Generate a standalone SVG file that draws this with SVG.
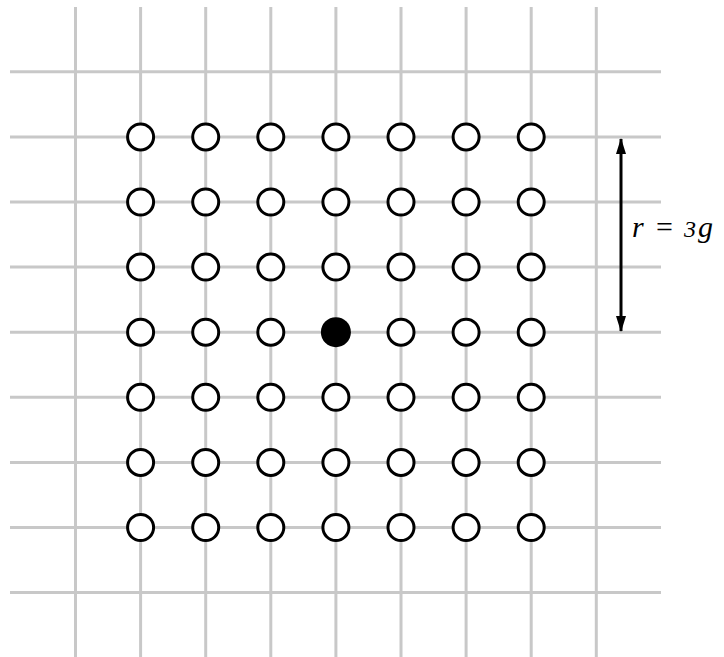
<svg xmlns="http://www.w3.org/2000/svg" width="724" height="657" viewBox="0 0 724 657">
<style>
.grid line{stroke:#c8c8c8;stroke-width:3}
.pt{fill:#fff;stroke:#000;stroke-width:3}
.ctr{fill:#000}
.dim{stroke:#000;stroke-width:3;fill:none}
.lbl{font-family:"Liberation Serif","Times New Roman",serif;font-style:italic;font-size:30px;fill:#000}
</style>
<defs>
<marker id="ah" viewBox="0 0 16 10" refX="15" refY="5" markerWidth="16" markerHeight="10" markerUnits="userSpaceOnUse" orient="auto-start-reverse">
<path d="M0,0 L16,5 L0,10 Z" fill="#000"/>
</marker>
</defs>
<rect width="724" height="657" fill="#fff"/>
<g id="grid" class="grid">
<line x1="75.5" y1="7" x2="75.5" y2="657"/>
<line x1="140.6" y1="7" x2="140.6" y2="657"/>
<line x1="205.7" y1="7" x2="205.7" y2="657"/>
<line x1="270.8" y1="7" x2="270.8" y2="657"/>
<line x1="335.9" y1="7" x2="335.9" y2="657"/>
<line x1="401" y1="7" x2="401" y2="657"/>
<line x1="466.1" y1="7" x2="466.1" y2="657"/>
<line x1="531.2" y1="7" x2="531.2" y2="657"/>
<line x1="596.3" y1="7" x2="596.3" y2="657"/>
<line x1="10" y1="71.8" x2="661" y2="71.8"/>
<line x1="10" y1="136.9" x2="661" y2="136.9"/>
<line x1="10" y1="202" x2="661" y2="202"/>
<line x1="10" y1="267.1" x2="661" y2="267.1"/>
<line x1="10" y1="332.2" x2="661" y2="332.2"/>
<line x1="10" y1="397.3" x2="661" y2="397.3"/>
<line x1="10" y1="462.4" x2="661" y2="462.4"/>
<line x1="10" y1="527.5" x2="661" y2="527.5"/>
<line x1="10" y1="592.6" x2="661" y2="592.6"/>
</g>
<g id="points">
<g id="row1">
<circle class="pt" cx="140.6" cy="136.9" r="13"/><circle class="pt" cx="205.7" cy="136.9" r="13"/><circle class="pt" cx="270.8" cy="136.9" r="13"/><circle class="pt" cx="335.9" cy="136.9" r="13"/><circle class="pt" cx="401" cy="136.9" r="13"/><circle class="pt" cx="466.1" cy="136.9" r="13"/><circle class="pt" cx="531.2" cy="136.9" r="13"/>
</g>
<g id="row2">
<circle class="pt" cx="140.6" cy="202" r="13"/><circle class="pt" cx="205.7" cy="202" r="13"/><circle class="pt" cx="270.8" cy="202" r="13"/><circle class="pt" cx="335.9" cy="202" r="13"/><circle class="pt" cx="401" cy="202" r="13"/><circle class="pt" cx="466.1" cy="202" r="13"/><circle class="pt" cx="531.2" cy="202" r="13"/>
</g>
<g id="row3">
<circle class="pt" cx="140.6" cy="267.1" r="13"/><circle class="pt" cx="205.7" cy="267.1" r="13"/><circle class="pt" cx="270.8" cy="267.1" r="13"/><circle class="pt" cx="335.9" cy="267.1" r="13"/><circle class="pt" cx="401" cy="267.1" r="13"/><circle class="pt" cx="466.1" cy="267.1" r="13"/><circle class="pt" cx="531.2" cy="267.1" r="13"/>
</g>
<g id="row4">
<circle class="pt" cx="140.6" cy="332.2" r="13"/><circle class="pt" cx="205.7" cy="332.2" r="13"/><circle class="pt" cx="270.8" cy="332.2" r="13"/><circle id="center" class="ctr" cx="335.9" cy="332.2" r="15"/><circle class="pt" cx="401" cy="332.2" r="13"/><circle class="pt" cx="466.1" cy="332.2" r="13"/><circle class="pt" cx="531.2" cy="332.2" r="13"/>
</g>
<g id="row5">
<circle class="pt" cx="140.6" cy="397.3" r="13"/><circle class="pt" cx="205.7" cy="397.3" r="13"/><circle class="pt" cx="270.8" cy="397.3" r="13"/><circle class="pt" cx="335.9" cy="397.3" r="13"/><circle class="pt" cx="401" cy="397.3" r="13"/><circle class="pt" cx="466.1" cy="397.3" r="13"/><circle class="pt" cx="531.2" cy="397.3" r="13"/>
</g>
<g id="row6">
<circle class="pt" cx="140.6" cy="462.4" r="13"/><circle class="pt" cx="205.7" cy="462.4" r="13"/><circle class="pt" cx="270.8" cy="462.4" r="13"/><circle class="pt" cx="335.9" cy="462.4" r="13"/><circle class="pt" cx="401" cy="462.4" r="13"/><circle class="pt" cx="466.1" cy="462.4" r="13"/><circle class="pt" cx="531.2" cy="462.4" r="13"/>
</g>
<g id="row7">
<circle class="pt" cx="140.6" cy="527.5" r="13"/><circle class="pt" cx="205.7" cy="527.5" r="13"/><circle class="pt" cx="270.8" cy="527.5" r="13"/><circle class="pt" cx="335.9" cy="527.5" r="13"/><circle class="pt" cx="401" cy="527.5" r="13"/><circle class="pt" cx="466.1" cy="527.5" r="13"/><circle class="pt" cx="531.2" cy="527.5" r="13"/>
</g>
</g>
<g id="connectors">
<line class="dim" x1="621" y1="139" x2="621" y2="331" marker-start="url(#ah)" marker-end="url(#ah)"/>
</g>
<g id="label">
<text class="lbl" y="237"><tspan x="632">r</tspan><tspan x="656" font-style="normal">=</tspan><tspan x="684" font-size="24">3</tspan><tspan x="698">g</tspan></text>
</g>
</svg>
